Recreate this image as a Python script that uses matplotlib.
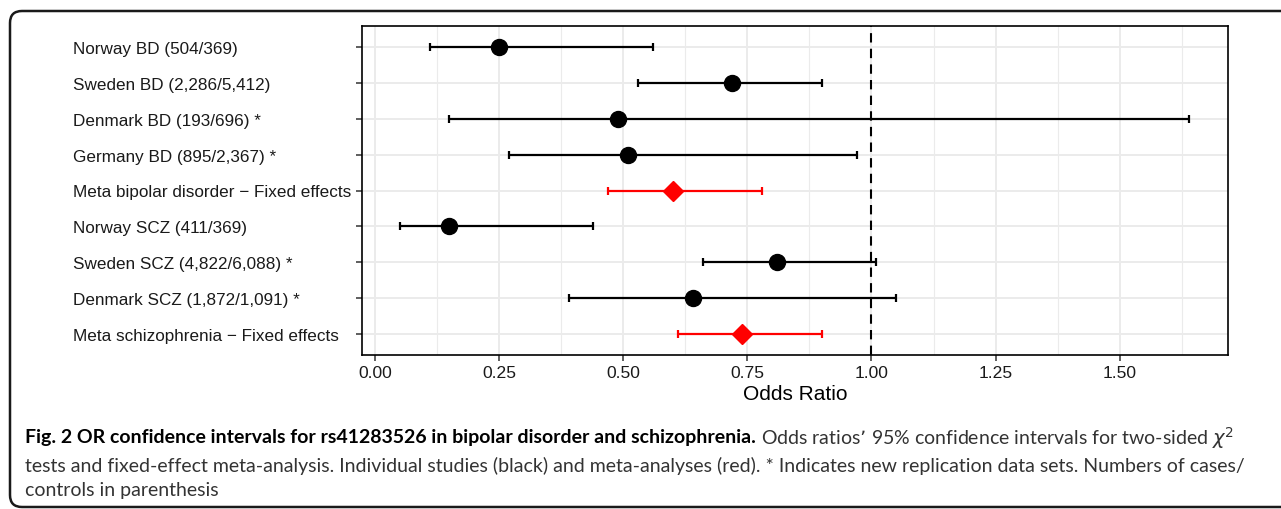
import matplotlib
matplotlib.use("Agg")
import matplotlib.pyplot as plt
from matplotlib.patches import FancyBboxPatch

plt.rcParams['font.family'] = ['Liberation Sans', 'DejaVu Sans']

labels = ["Norway BD (504/369)", "Sweden BD (2,286/5,412)", "Denmark BD (193/696) *",
          "Germany BD (895/2,367) *", "Meta bipolar disorder \u2212 Fixed effects",
          "Norway SCZ (411/369)", "Sweden SCZ (4,822/6,088) *", "Denmark SCZ (1,872/1,091) *",
          "Meta schizophrenia \u2212 Fixed effects"]
odds = [0.25, 0.72, 0.49, 0.51, 0.60, 0.15, 0.81, 0.64, 0.74]
lower = [0.11, 0.53, 0.15, 0.27, 0.47, 0.05, 0.66, 0.39, 0.61]
upper = [0.56, 0.90, 1.64, 0.97, 0.78, 0.44, 1.01, 1.05, 0.90]
is_meta = [False, False, False, False, True, False, False, False, True]
xticks = [0.0, 0.25, 0.5, 0.75, 1.0, 1.25, 1.5]

fig = plt.figure(figsize=(12.81, 5.10), dpi=100)

# background frame in pixel coords
bg = fig.add_axes([0, 0, 1, 1], zorder=-5)
bg.set_xlim(0, 1281)
bg.set_ylim(510, 0)
bg.axis("off")
bg.add_patch(FancyBboxPatch((10, 12), 1320, 496, boxstyle="round,pad=0,rounding_size=12",
                            fc="white", ec="#1a1a1a", lw=1.8))

ax = fig.add_axes([362/1281, 1 - 356/510, (1228 - 362)/1281, (356 - 27)/510])
n = len(labels)
ypos = [n - i for i in range(n)]

for y, o, lo, hi, m in zip(ypos, odds, lower, upper, is_meta):
    c = "red" if m else "black"
    ax.errorbar(o, y, xerr=[[o - lo], [hi - o]], fmt="none", ecolor=c,
                elinewidth=1.6, capsize=3.2, capthick=1.6, zorder=3)
    if m:
        ax.plot(o, y, marker="D", color="red", markersize=10.5, zorder=4, linestyle="none")
    else:
        ax.plot(o, y, marker="o", color="black", markersize=11.5, zorder=4, linestyle="none")

ax.axvline(1.0, color="black", linestyle=(0, (4.5, 3)), linewidth=1.5, zorder=2)

ax.set_xlim(-0.026, 1.718)
ax.set_ylim(0.4, n + 0.6)
ax.set_yticks(ypos)
ax.set_yticklabels(labels, fontsize=12.3, color="#1a1a1a")
for lab in ax.get_yticklabels():
    lab.set_horizontalalignment("left")
ax.set_xticks(xticks)
ax.set_xticklabels([f"{t:.2f}" for t in xticks], fontsize=12.6, color="#1a1a1a")
ax.set_xticks([0.125, 0.375, 0.625, 0.875, 1.125, 1.375, 1.625], minor=True)
ax.tick_params(axis="both", which="major", length=4, width=1.1, color="#333333")
ax.tick_params(axis="y", which="major", pad=(362 - 4 - 75) * 0.72)
ax.tick_params(axis="x", which="major", pad=3)
ax.tick_params(axis="x", which="minor", length=0)
ax.grid(True, which="major", color="#EBEBEB", linewidth=1.4, zorder=0)
ax.grid(True, which="minor", axis="x", color="#EBEBEB", linewidth=0.8, zorder=0)
ax.set_axisbelow(True)
for s in ax.spines.values():
    s.set_linewidth(1.2)
    s.set_color("black")
ax.set_xlabel("Odds Ratio", fontsize=15, labelpad=3)

# caption
cap_font = ['Lato', 'DejaVu Sans']
fs = 14
fig.canvas.draw()
r = fig.canvas.get_renderer()
t1 = fig.text(25/1281, 1 - 438/510, "Fig. 2 OR confidence intervals for rs41283526 in bipolar disorder and schizophrenia.",
              family=cap_font, fontsize=fs, fontweight="bold", color="black", va="center")
bb = t1.get_window_extent(r)
fig.text((bb.x1 + 5)/1281, 1 - 438/510,
         "Odds ratios\u2019 95% confidence intervals for two-sided $\\chi^2$",
         family=cap_font, fontsize=fs, color="#333333", va="center")
fig.text(25/1281, 1 - 466/510,
         "tests and fixed-effect meta-analysis. Individual studies (black) and meta-analyses (red). "
         "* Indicates new replication data sets. Numbers of cases/",
         family=cap_font, fontsize=fs, color="#333333", va="center")
fig.text(25/1281, 1 - 491/510, "controls in parenthesis",
         family=cap_font, fontsize=fs, color="#333333", va="center")

fig.savefig("out.png", dpi=100)
